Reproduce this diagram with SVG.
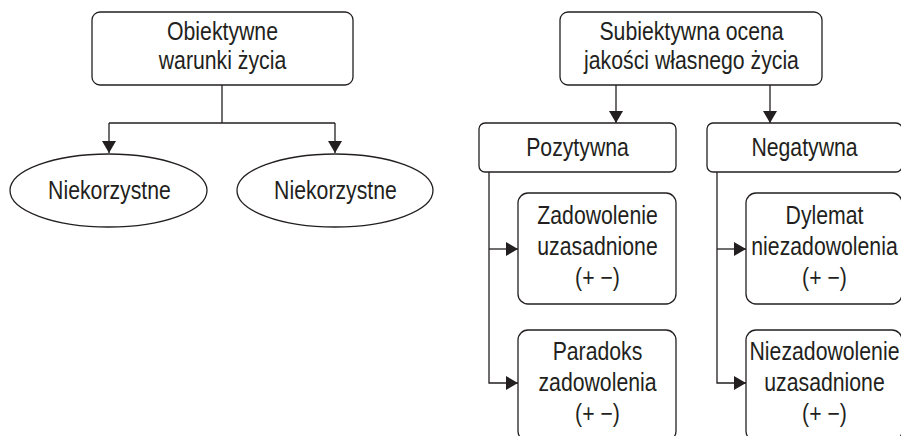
<svg xmlns="http://www.w3.org/2000/svg" width="901" height="436" viewBox="0 0 901 436">
<defs>
<style>
.box{fill:#fff;stroke:#231f20;stroke-width:1.3}
.ln{fill:none;stroke:#231f20;stroke-width:1.3}
text{font-family:"Liberation Sans",Arial,sans-serif;font-size:25px;fill:#231f20;text-anchor:middle}
</style>
<marker id="ah" viewBox="0 0 12 14" refX="12" refY="7" markerWidth="12" markerHeight="14" markerUnits="userSpaceOnUse" orient="auto">
<path d="M0,0 L12,7 L0,14 Z" fill="#231f20"/>
</marker>
</defs>
<rect width="901" height="436" fill="#fff"/>
<g id="connectors">
<path class="ln" d="M222,85 V123"/>
<path class="ln" d="M109,123 H335"/>
<path class="ln" d="M109,123 V153" marker-end="url(#ah)"/>
<path class="ln" d="M335,123 V153" marker-end="url(#ah)"/>
<path class="ln" d="M616,85 V123" marker-end="url(#ah)"/>
<path class="ln" d="M770,85 V123" marker-end="url(#ah)"/>
<path class="ln" d="M489,172 V383 H518" marker-end="url(#ah)"/>
<path class="ln" d="M489,249 H518" marker-end="url(#ah)"/>
<path class="ln" d="M717,172 V383 H746" marker-end="url(#ah)"/>
<path class="ln" d="M717,249 H746" marker-end="url(#ah)"/>
</g>
<g id="obiektywne">
<rect class="box" x="92" y="12" width="261" height="73" rx="8"/>
<text transform="translate(222.5 40) scale(0.85 1)">Obiektywne</text>
<text transform="translate(222.5 69) scale(0.85 1)">warunki życia</text>
</g>
<g id="niekorzystne1">
<ellipse class="box" cx="108.5" cy="190.5" rx="98.5" ry="36.5"/>
<text transform="translate(109.5 198.5) scale(0.85 1)">Niekorzystne</text>
</g>
<g id="niekorzystne2">
<ellipse class="box" cx="335" cy="190.5" rx="98" ry="36.5"/>
<text transform="translate(335.5 198.5) scale(0.85 1)">Niekorzystne</text>
</g>
<g id="subiektywna">
<rect class="box" x="560" y="12" width="262" height="73" rx="8"/>
<text transform="translate(691.5 40) scale(0.85 1)">Subiektywna ocena</text>
<text transform="translate(691.5 69) scale(0.85 1)">jakości własnego życia</text>
</g>
<g id="pozytywna">
<rect class="box" x="479" y="123" width="197" height="49" rx="6"/>
<text transform="translate(577.5 156) scale(0.85 1)">Pozytywna</text>
</g>
<g id="negatywna">
<rect class="box" x="707" y="123" width="195" height="49" rx="6"/>
<text transform="translate(804.5 156) scale(0.85 1)">Negatywna</text>
</g>
<g id="zadowolenie">
<rect class="box" x="518" y="193" width="158" height="111" rx="10"/>
<text transform="translate(597.5 224) scale(0.85 1)">Zadowolenie</text>
<text transform="translate(597.5 255) scale(0.85 1)">uzasadnione</text>
<text transform="translate(597.5 286) scale(0.85 1)">(+ −)</text>
</g>
<g id="paradoks">
<rect class="box" x="518" y="330" width="158" height="111" rx="10"/>
<text transform="translate(597.5 360) scale(0.85 1)">Paradoks</text>
<text transform="translate(597.5 391) scale(0.85 1)">zadowolenia</text>
<text transform="translate(597.5 422) scale(0.85 1)">(+ −)</text>
</g>
<g id="dylemat">
<rect class="box" x="746" y="193" width="156" height="111" rx="10"/>
<text transform="translate(824.5 224) scale(0.85 1)">Dylemat</text>
<text transform="translate(824.5 255) scale(0.85 1)">niezadowolenia</text>
<text transform="translate(824.5 286) scale(0.85 1)">(+ −)</text>
</g>
<g id="niezadowolenie">
<rect class="box" x="746" y="330" width="156" height="111" rx="10"/>
<text transform="translate(824.5 360) scale(0.85 1)">Niezadowolenie</text>
<text transform="translate(824.5 391) scale(0.85 1)">uzasadnione</text>
<text transform="translate(824.5 422) scale(0.85 1)">(+ −)</text>
</g>
</svg>
